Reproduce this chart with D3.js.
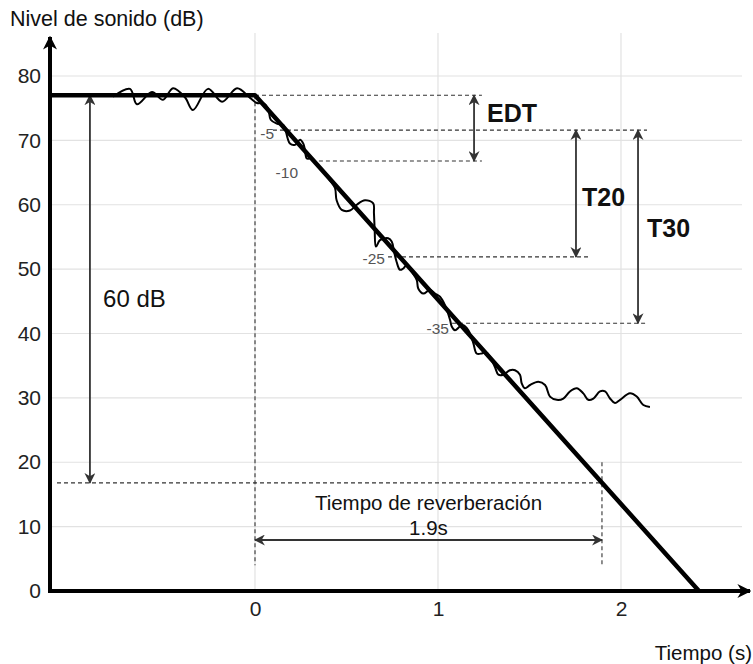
<!DOCTYPE html>
<html>
<head>
<meta charset="utf-8">
<script src="https://cdn.jsdelivr.net/npm/d3@7"></script>
<style>
  html, body { margin: 0; padding: 0; background: #fff; }
  svg { display: block; }
  text { font-family: "Liberation Sans", Arial, Helvetica, sans-serif; }
</style>
</head>
<body>
<svg id="chart" width="753" height="664"></svg>
<script>
// ---------- DATA ----------
const yTicks = [0, 10, 20, 30, 40, 50, 60, 70, 80];
const xTicks = [0, 1, 2];
const xTickLabels = ["0", "1", "2"];

// Idealised decay (thick line)
const decayTime  = [-1.12, 0, 2.426];
const decayLevel = [77, 77, 0];

// Measured (noisy) decay curve
const noiseTime = [-0.776, -0.683, -0.645, -0.563, -0.503, -0.448, -0.383, -0.339, -0.257, -0.180, -0.098, -0.027, 0.011,
  0.044, 0.071, 0.086, 0.119, 0.155, 0.164, 0.191, 0.219, 0.246, 0.264, 0.273, 0.283, 0.310, 0.355, 0.410,
  0.437, 0.446, 0.474, 0.519, 0.556, 0.601, 0.646, 0.650, 0.654, 0.661, 0.683, 0.728, 0.747, 0.760,
  0.774, 0.792, 0.810, 0.829, 0.856, 0.884, 0.892, 0.920, 0.956, 0.984, 1.011, 1.038, 1.066, 1.075,
  1.093, 1.120, 1.138, 1.166, 1.193, 1.211, 1.239, 1.262, 1.284, 1.311, 1.330, 1.357, 1.393, 1.421,
  1.448, 1.457, 1.475, 1.503, 1.548, 1.585, 1.612, 1.649, 1.685, 1.721, 1.758, 1.794, 1.821, 1.849,
  1.885, 1.913, 1.940, 1.967, 1.995, 2.049, 2.086, 2.122, 2.158];
const noiseLevel = [76.8, 78.0, 75.6, 77.5, 76.3, 78.1, 76.7, 74.7, 78.0, 76.0, 78.1, 76.6, 75.8,
  75.8, 75.0, 73.2, 72.6, 72.4, 71.9, 69.5, 69.3, 70.1, 69.5, 68.5, 67.2, 67.2, 65.7, 63.8,
  62.6, 60.7, 59.2, 59.1, 60.0, 60.7, 60.2, 58.7, 56.1, 53.5, 54.5, 54.8, 54.3, 52.7,
  51.1, 49.9, 50.1, 50.6, 49.6, 48.3, 47.0, 46.2, 46.8, 46.2, 45.7, 44.4, 42.1, 41.1,
  40.5, 41.1, 41.3, 40.5, 38.5, 36.9, 36.9, 37.1, 36.4, 34.8, 33.6, 33.6, 34.3, 34.3,
  33.6, 32.3, 31.5, 32.0, 32.5, 32.0, 30.2, 29.7, 29.9, 31.0, 31.5, 30.7, 29.7, 29.9,
  31.0, 31.0, 29.9, 29.2, 29.7, 30.7, 30.2, 28.9, 28.6];

// Decay reference levels (dB)
const startLevel = 77;
const markerLabels = ["-5", "-10", "-25", "-35"];
const markerLevels = [71.6, 66.8, 51.9, 41.6];
const rtLevel = 16.8;         // 77 - 60 dB
const rtTime = 1.896;         // reverberation time (s)
const rtText = ["Tiempo de reverberación", "1.9s"];

// ---------- DRAW ----------
const svg = d3.select("#chart");
const x = d3.scaleLinear().domain([0, 2]).range([255, 621]);
const y = d3.scaleLinear().domain([0, 80]).range([591, 76]);
const font = "'Liberation Sans', Arial, Helvetica, sans-serif";

const defs = svg.append("defs");
function marker(id, color, w, h) {
  defs.append("marker").attr("id", id)
    .attr("viewBox", "0 0 10 10").attr("refX", 9).attr("refY", 5)
    .attr("markerUnits", "userSpaceOnUse")
    .attr("markerWidth", w).attr("markerHeight", h)
    .attr("orient", "auto-start-reverse")
    .append("path").attr("d", "M0,0 L10,5 L0,10 L3,5 Z").attr("fill", color);
}
marker("axisArrow", "#000", 14, 14);
marker("dimArrow", "#333", 11, 11);

// Grid
const xMin = x.invert(50), xMax = x.invert(742);
svg.append("g").attr("class", "ygrid")
  .selectAll("line").data(yTicks.filter(d => d > 0)).join("line")
  .attr("x1", x(xMin)).attr("x2", x(xMax))
  .attr("y1", d => y(d)).attr("y2", d => y(d))
  .attr("stroke", "#e2e2e2").attr("stroke-width", 1.2);
svg.append("g").attr("class", "xgrid")
  .selectAll("line").data(xTicks).join("line")
  .attr("x1", d => x(d)).attr("x2", d => x(d))
  .attr("y1", y(0)).attr("y2", 33)
  .attr("stroke", "#e2e2e2").attr("stroke-width", 1.2);

// Tick labels via axes
const yAxis = svg.append("g").attr("transform", `translate(${x(xMin)},0)`)
  .call(d3.axisLeft(y).tickValues(yTicks).tickSize(0).tickPadding(9));
yAxis.select(".domain").remove();
yAxis.selectAll("text").attr("font-size", 21).attr("font-family", font).attr("fill", "#222");

const xAxis = svg.append("g").attr("transform", `translate(0,${y(0)})`)
  .call(d3.axisBottom(x).tickValues(xTicks).tickFormat((d, i) => xTickLabels[i]).tickSize(0).tickPadding(10));
xAxis.select(".domain").remove();
xAxis.selectAll("text").attr("font-size", 21).attr("font-family", font).attr("fill", "#222");

// Dashed guide lines
const dash = svg.append("g").attr("stroke", "#333").attr("stroke-width", 1.1)
  .attr("stroke-dasharray", "4,3").attr("fill", "none");
function hd(t1, t2, v) { dash.append("line").attr("x1", x(t1)).attr("x2", x(t2)).attr("y1", y(v)).attr("y2", y(v)); }
function vd(t, v1, v2) { dash.append("line").attr("x1", x(t)).attr("x2", x(t)).attr("y1", y(v1)).attr("y2", y(v2)); }
hd(0, 1.24, startLevel);
hd(0.098, 2.142, markerLevels[0]);
hd(0.311, 1.24, markerLevels[1]);
hd(0.727, 1.831, markerLevels[2]);
hd(1.077, 2.142, markerLevels[3]);
hd(-1.082, rtTime, rtLevel);
vd(0, startLevel, 4);
vd(rtTime, 20, 4);

// Marker labels
const lblPos = [[0.104, 71.1], [0.235, 65.0], [0.710, 51.6], [1.060, 40.7]];
svg.append("g").selectAll("text").data(markerLabels).join("text")
  .attr("x", (d, i) => x(lblPos[i][0])).attr("y", (d, i) => y(lblPos[i][1]))
  .attr("text-anchor", "end").attr("dominant-baseline", "central")
  .attr("font-size", 15.5).attr("fill", "#555").text(d => d);

// Dimension arrows
const dims = svg.append("g").attr("stroke", "#333").attr("stroke-width", 1.8);
function dv(t, v1, v2) {
  dims.append("line").attr("x1", x(t)).attr("x2", x(t)).attr("y1", y(v1)).attr("y2", y(v2))
    .attr("marker-start", "url(#dimArrow)").attr("marker-end", "url(#dimArrow)");
}
dv(-0.902, startLevel, rtLevel);
dv(1.197, startLevel, markerLevels[1]);
dv(1.754, markerLevels[0], markerLevels[2]);
dv(2.093, markerLevels[0], markerLevels[3]);
dims.append("line").attr("x1", x(0)).attr("x2", x(rtTime)).attr("y1", y(7.92)).attr("y2", y(7.92))
  .attr("marker-start", "url(#dimArrow)").attr("marker-end", "url(#dimArrow)");

// Noisy measured curve
const noise = noiseTime.map((t, i) => [t, noiseLevel[i]]);
svg.append("path").datum(noise)
  .attr("d", d3.line().x(d => x(d[0])).y(d => y(d[1])).curve(d3.curveCatmullRom.alpha(0.5)))
  .attr("fill", "none").attr("stroke", "#000").attr("stroke-width", 2);

// Ideal decay (thick)
const decay = decayTime.map((t, i) => [t, decayLevel[i]]);
svg.append("path").datum(decay)
  .attr("d", d3.line().x(d => x(d[0])).y(d => y(d[1])))
  .attr("fill", "none").attr("stroke", "#000").attr("stroke-width", 4.5).attr("stroke-linejoin", "round");

// Axes lines with arrows
svg.append("line").attr("x1", x(xMin)).attr("x2", x(xMin)).attr("y1", y(0) + 2).attr("y2", 37)
  .attr("stroke", "#000").attr("stroke-width", 4).attr("marker-end", "url(#axisArrow)");
svg.append("line").attr("x1", x(xMin) - 2).attr("x2", 750).attr("y1", y(0)).attr("y2", y(0))
  .attr("stroke", "#000").attr("stroke-width", 4).attr("marker-end", "url(#axisArrow)");

// Text labels
const T = svg.append("g").attr("fill", "#111");
T.append("text").attr("x", 10).attr("y", 18.5).attr("dominant-baseline", "central")
  .attr("font-size", 21.5).text("Nivel de sonido (dB)");
T.append("text").attr("x", 752).attr("y", 652).attr("text-anchor", "end").attr("dominant-baseline", "central")
  .attr("font-size", 20.5).text("Tiempo (s)");
T.append("text").attr("x", x(-0.83)).attr("y", y(45.5)).attr("dominant-baseline", "central")
  .attr("font-size", 24).text("60 dB");
T.append("text").attr("x", x(1.268)).attr("y", y(74.3)).attr("dominant-baseline", "central")
  .attr("font-size", 25).attr("font-weight", "bold").text("EDT");
T.append("text").attr("x", x(1.787)).attr("y", y(61.2)).attr("dominant-baseline", "central")
  .attr("font-size", 25).attr("font-weight", "bold").text("T20");
T.append("text").attr("x", x(2.142)).attr("y", y(56.4)).attr("dominant-baseline", "central")
  .attr("font-size", 25).attr("font-weight", "bold").text("T30");
T.append("text").attr("x", x(rtTime / 2)).attr("y", y(13.8)).attr("text-anchor", "middle").attr("dominant-baseline", "central")
  .attr("font-size", 20.5).text(rtText[0]);
T.append("text").attr("x", x(rtTime / 2)).attr("y", y(9.8)).attr("text-anchor", "middle").attr("dominant-baseline", "central")
  .attr("font-size", 20.5).text(rtText[1]);
</script>
</body>
</html>
